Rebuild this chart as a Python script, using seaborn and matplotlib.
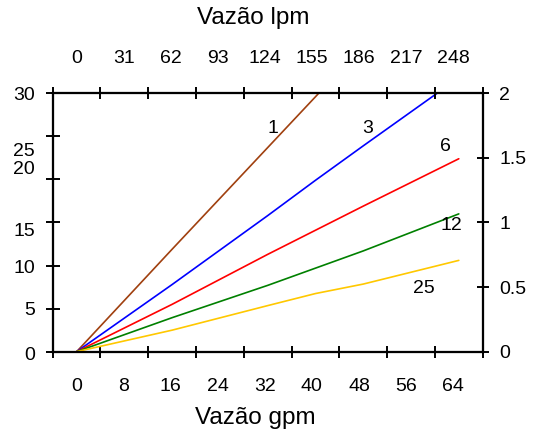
import matplotlib.pyplot as plt
import matplotlib.transforms as mtransforms
import numpy as np
import pandas as pd
import seaborn as sns

# flow in gpm and loss for each curve (left scale)
gpm = [0, 16, 32, 40, 48, 64]
loss_1 = [0, 11.9, 23.7, 29.6, 35.6, 47.4]
loss_3 = [0, 7.8, 15.8, 19.9, 23.9, 31.8]
loss_6 = [0, 5.5, 11.3, 14.1, 16.9, 22.4]
loss_12 = [0, 3.95, 7.7, 9.7, 11.7, 16.0]
loss_25 = [0, 2.5, 5.35, 6.75, 7.85, 10.6]
curve_names = ['1', '3', '6', '12', '25']
curve_colors = ['#a0400f', '#0000ff', '#ff0000', '#008000', '#ffc800']

# label spots for the curve names (gpm, left scale)
name_x = [32.9, 48.8, 61.7, 62.8, 58.2]
name_y = [25.9, 25.9, 23.8, 14.7, 7.3]

bottom_labels = ['0', '8', '16', '24', '32', '40', '48', '56', '64']
top_labels = ['0', '31', '62', '93', '124', '155', '186', '217', '248']
left_labels = ['0', '5', '10', '15', '20', '25', '30']
left_label_pos = [-0.4, 4.8, 9.7, 13.9, 21.1, 23.2, 29.8]
right_ticks = [0, 0.5, 1, 1.5, 2]
right_labels = ['0', '0.5', '1', '1.5', '2']

sns.set_theme(style='white', rc={'axes.edgecolor': 'black', 'axes.linewidth': 1.5,
                                 'text.color': 'black', 'xtick.color': 'black',
                                 'ytick.color': 'black'})
plt.rcParams['font.family'] = ['Liberation Sans', 'DejaVu Sans']

df = pd.DataFrame({
    'gpm': gpm * 5,
    'perda': loss_1 + loss_3 + loss_6 + loss_12 + loss_25,
    'curva': [n for n in curve_names for _ in gpm],
})

fig = plt.figure(figsize=(5.39, 4.33), dpi=100)
ax = fig.add_axes([0.0978, 0.1878, 0.7977, 0.5967])
axt = ax.twiny()
axr = ax.twinx()

sns.lineplot(data=df, x='gpm', y='perda', hue='curva', hue_order=curve_names,
             palette=curve_colors, legend=False, ax=ax, lw=1.2)
ax.set_xlim(-4, 68)
ax.set_ylim(0, 30)
ax.set_xlabel('')
ax.set_ylabel('')

tick_pos = np.arange(-4, 69, 8)
label_pos = np.arange(9) * 7.88

# bottom axis: ticks and labels sit apart, like the original
ax.set_xticks(tick_pos)
ax.set_xticks(label_pos, labels=bottom_labels, minor=True)
ax.tick_params(axis='x', which='major', direction='inout', length=8, width=1.4,
               bottom=True, labelbottom=False)
ax.tick_params(axis='x', which='minor', length=0, pad=19, labelsize=14,
               bottom=True, labelbottom=True)

# left axis
ax.set_yticks(np.arange(0, 31, 5))
ax.tick_params(axis='y', which='major', direction='inout', length=10, width=1.4,
               left=True, labelleft=False)
trans = mtransforms.blended_transform_factory(ax.transAxes, ax.transData)
for lab, pos in zip(left_labels, left_label_pos):
    ax.text(-0.041, pos, lab, transform=trans, ha='right', va='center', fontsize=14)

# curve names
for name, x, y in zip(curve_names, name_x, name_y):
    ax.text(x, y, name, ha='center', va='center', fontsize=14)

# top axis
axt.set_xlim(ax.get_xlim())
axt.set_xticks(tick_pos)
axt.set_xticks(label_pos, labels=top_labels, minor=True)
axt.tick_params(axis='x', which='major', direction='inout', length=8, width=1.4,
                top=True, labeltop=False)
axt.tick_params(axis='x', which='minor', length=0, pad=19, labelsize=14,
                top=True, labeltop=True)

# right axis
axr.set_ylim(0, 2)
axr.set_yticks(right_ticks, labels=right_labels)
axr.tick_params(axis='y', direction='inout', length=8, width=1.4, right=True,
                pad=8, labelsize=14)

fig.text(255 / 539, 1 - 418 / 433, 'Vazão gpm', ha='center', va='center', fontsize=17.5)
fig.text(253 / 539, 1 - 18 / 433, 'Vazão lpm', ha='center', va='center', fontsize=17.5)

fig.savefig('out.png', dpi=100)
